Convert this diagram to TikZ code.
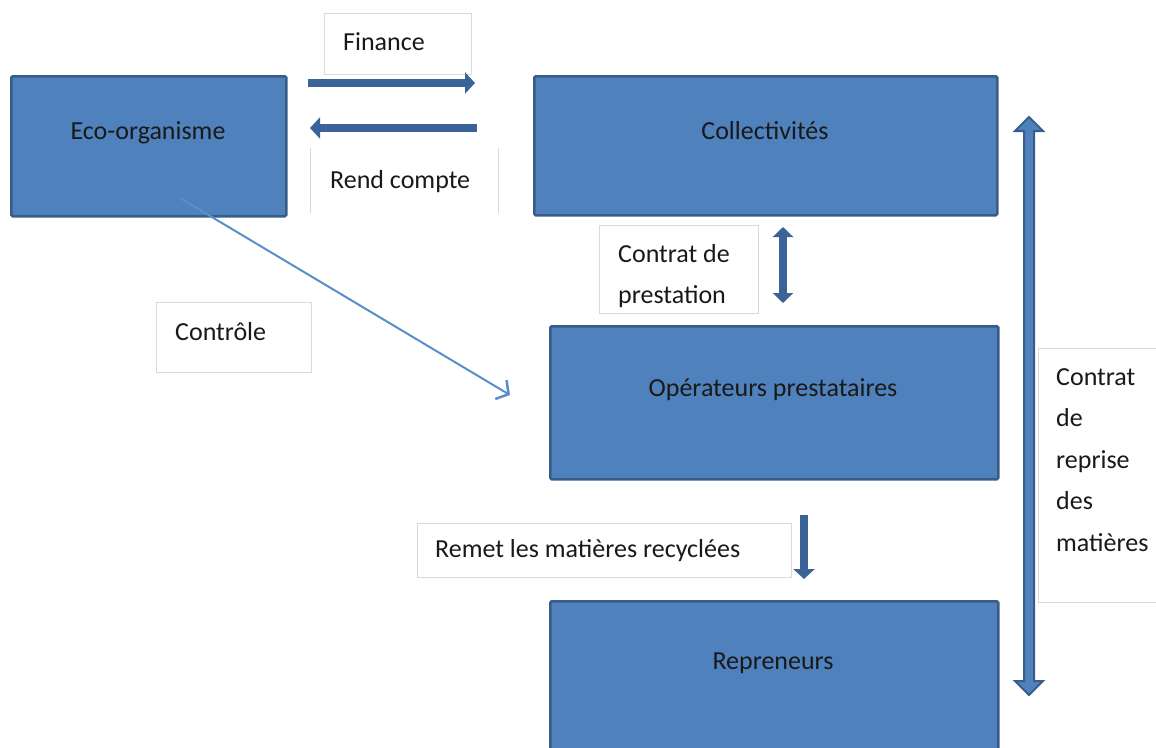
\documentclass[tikz,border=0pt]{standalone}
\usepackage{fontspec}
\setmainfont{Carlito}
\usetikzlibrary{arrows.meta}
\definecolor{boxfill}{HTML}{4F81BD}
\definecolor{boxline}{HTML}{385D8A}
\definecolor{arrowdark}{HTML}{3B6397}
\definecolor{lblline}{HTML}{D9D9D9}
\definecolor{ctrlline}{HTML}{5B8DCB}
\tikzset{
  bigbox/.style={draw=boxline, fill=boxfill, line width=2.5pt, rounded corners=1.5pt, anchor=north west, inner sep=0pt},
  boxtext/.style={font=\fontsize{26}{41.5}\selectfont, text=black!90, anchor=mid, inner sep=0pt},
  lbltext/.style={font=\fontsize{26}{41.5}\selectfont, text=black!90, anchor=mid west, inner sep=0pt, align=left},
  lblbox/.style={draw=lblline, line width=0.8pt, fill=white},
  fatarrow/.style={draw=arrowdark, line width=8pt, -{Triangle[length=10pt,width=21pt]}},
  fatdouble/.style={draw=arrowdark, line width=8pt, {Triangle[length=10pt,width=20pt]}-{Triangle[length=10pt,width=20pt]}},
  thinarrow/.style={draw=ctrlline, line width=2pt, -{Straight Barb[length=9pt,width=22pt,line width=2.5pt]}},
}
\begin{document}
\begin{tikzpicture}[x=1pt,y=-1pt]
\useasboundingbox (0,0) rectangle (1156,747);
\begin{scope}
\clip (0,0) rectangle (1156,747);
% label boxes
\draw[lblbox] (324,13) rectangle (471,74);
\draw[lblline, line width=0.8pt] (310,148) -- (310,213) (498,148) -- (498,213);
\draw[lblbox] (599,225) rectangle (758,313);
\draw[lblbox] (156,302) rectangle (311,372);
\draw[lblbox] (417,523) rectangle (791,577);
\draw[lblbox] (1038,348) rectangle (1170,602);

% main boxes
\node[bigbox, minimum width=275pt, minimum height=140pt] (eco) at (10,75) {};
\node[bigbox, minimum width=463pt, minimum height=139pt] (coll) at (533,75) {};
\node[bigbox, minimum width=448pt, minimum height=153pt] (oper) at (549,325) {};
\node[bigbox, minimum width=448pt, minimum height=170pt] (rep) at (549,600) {};

\node[boxtext] (ecoT) at (148,137) {Eco-organisme};
\node[boxtext] (collT) at (765,137) {Collectivités};
\node[boxtext] (operT) at (773,394) {Opérateurs prestataires};
\node[boxtext] (repT) at (773,667) {Repreneurs};

% label texts
\node[lbltext] (finT) at (343,48) {Finance};
\node[lbltext] (rendT) at (330,186) {Rend compte};
\node[lbltext, anchor=north west] (prestT) at (618,244) {Contrat de\\prestation};
\node[lbltext, anchor=north west] (repriseT) at (1056,368) {Contrat\\de\\reprise\\des\\matières};
\node[lbltext] (ctrlT) at (175,338) {Contrôle};
\node[lbltext] (remT) at (435,555) {Remet les matières recyclées};

% connectors
\coordinate (finA) at (308,83);
\coordinate (finB) at (475,83);
\coordinate (rcA) at (477,128);
\coordinate (rcB) at (310,128);
\draw[fatarrow] (finA) -- (finB);
\draw[fatarrow] (rcA) -- (rcB);

\coordinate (cpA) at (783,227);
\coordinate (cpB) at (783,303);
\draw[fatdouble] (cpA) -- (cpB);

\coordinate (remA) at (804,515);
\coordinate (remB) at (804,579);
\draw[fatarrow] (remA) -- (remB);

\coordinate (ctrlA) at (180,198);
\coordinate (ctrlB) at (510,395);
\draw[thinarrow] (ctrlA) -- (ctrlB);

% big double block arrow
\draw[fill=boxfill, draw=boxline, line width=2pt, line join=miter]
  (1029,117) -- (1043,131) -- (1034,131) -- (1034,681) -- (1043,681) -- (1029,695)
  -- (1015,681) -- (1024,681) -- (1024,131) -- (1015,131) -- cycle;
\end{scope}
\end{tikzpicture}
\end{document}
